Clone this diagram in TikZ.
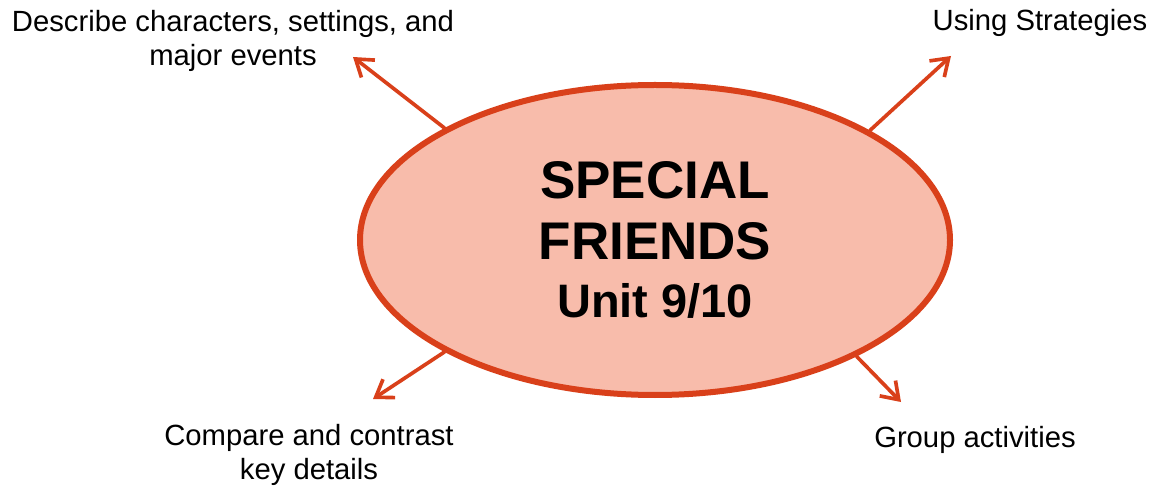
\documentclass[tikz,border=0pt]{standalone}
\usepackage{fontspec}
\setmainfont{Liberation Sans}
\usepackage{xcolor}
\usetikzlibrary{arrows.meta, positioning, shapes.geometric}
\definecolor{unitred}{RGB}{217,64,26}
\definecolor{unitfill}{RGB}{248,188,171}

\begin{document}
\begin{tikzpicture}[>=Stealth, thick]
    \useasboundingbox (0,0) rectangle (28.925,12.15);

    % Khối trung tâm
    \node[ellipse, draw=unitred, fill=unitfill, line width=0.15cm, inner sep=0pt,
          minimum width=14.75cm, minimum height=7.75cm, align=center,
          font=\fontsize{37.7}{44}\selectfont\bfseries] (unit) at (16.375,6.15)
        {SPECIAL\\FRIENDS\\[-2.7pt]{\fontsize{33.4}{41.3}\selectfont Unit 9/10}};

    % Các nhãn xung quanh
    \tikzset{lbl/.style={align=center, inner sep=0pt, font=\fontsize{20.8}{24.6}\selectfont}}
    \node[lbl] (describe) at (5.825,11.125) {Describe characters, settings, and\\major events};
    \node[lbl] (strategies) at (26.0,11.575) {Using Strategies};
    \node[lbl] (compare) at (7.725,0.775) {Compare and contrast\\key details};
    \node[lbl] (group) at (24.375,1.15) {Group activities};

    % Đầu mũi tên
    \coordinate (tl) at (8.825,10.725);
    \coordinate (tr) at (23.775,10.75);
    \coordinate (bl) at (9.325,2.175);
    \coordinate (br) at (22.525,2.1);

    % Các mũi tên từ khối trung tâm
    \foreach \ang/\tip in {152/tl, 27/tr, 208/bl, 330/br} {
        \draw[-{Straight Barb[length=4mm, width=5.5mm]}, unitred, line width=2.6pt,
              line cap=round, line join=round] (unit.\ang) -- (\tip);
    }

\end{tikzpicture}
\end{document}
